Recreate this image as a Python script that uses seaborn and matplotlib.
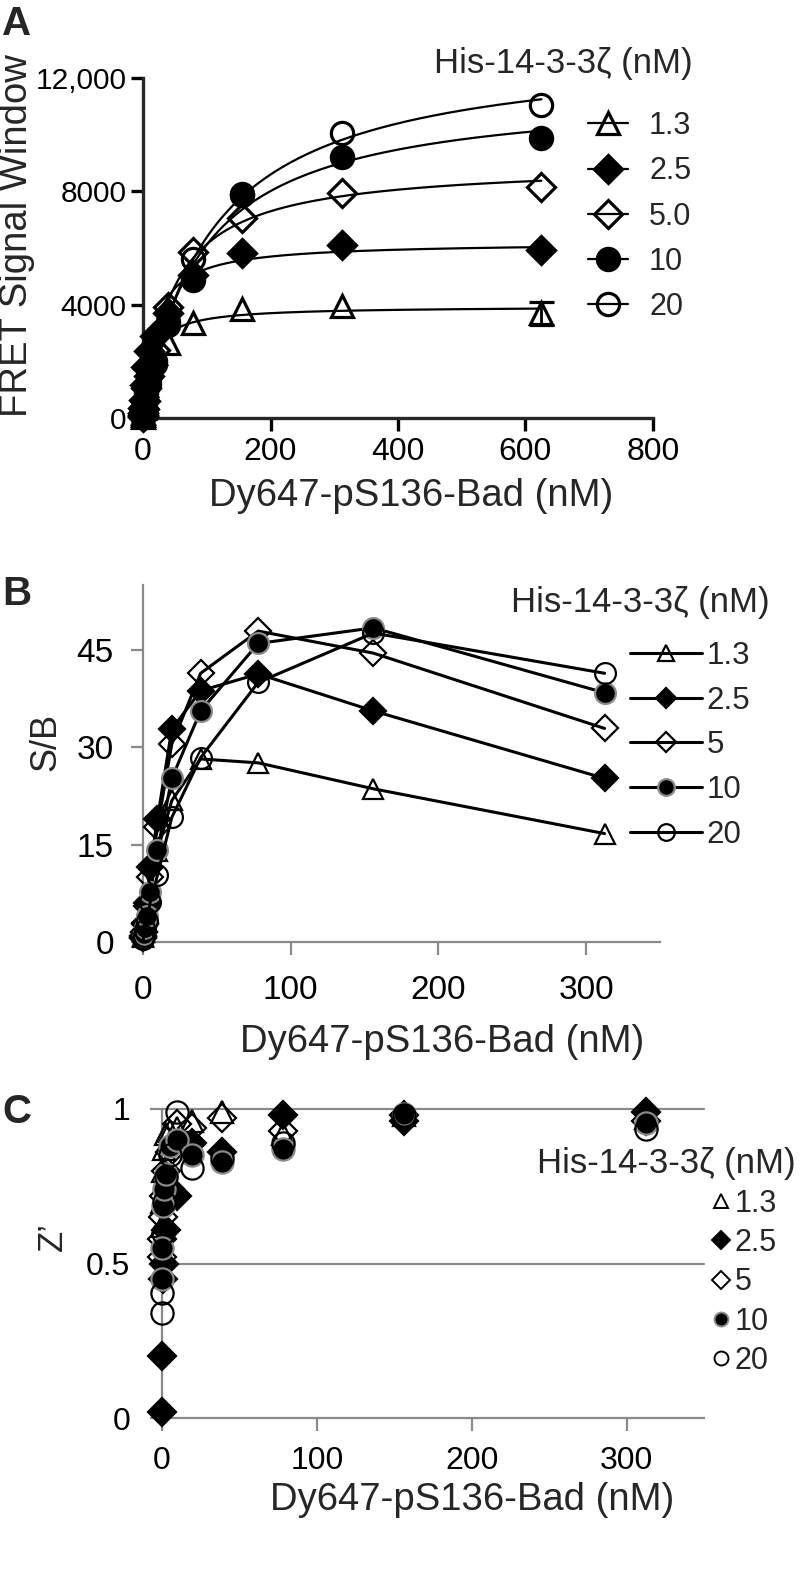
import numpy as np
import matplotlib
matplotlib.use('Agg')
import matplotlib.pyplot as plt
from matplotlib.lines import Line2D
import seaborn as sns

# ---- data ----
legend_title = 'His-14-3-3\u03b6 (nM)'
labels_a = ['1.3', '2.5', '5.0', '10', '20']
labels_bc = ['1.3', '2.5', '5', '10', '20']

# Panel A: FRET signal window vs Dy647-pS136-Bad (nM)
bad_a = [0.15, 0.3, 0.6, 1.2, 2.4, 4.9, 9.8, 19.5, 39, 78, 156, 312.5, 625]
fret_13 = [50, 100, 190, 370, 680, 1150, 1800, 2300, 2650, 3350, 3850, 3950, 3700]
fret_25 = [90, 180, 340, 650, 1150, 1800, 2350, 2900, 3700, 5050, 5820, 6100, 5930]
fret_50 = [40, 80, 160, 310, 600, 1050, 1500, 2400, 3920, 5860, 7060, 7940, 8150]
fret_10 = [30, 60, 120, 240, 480, 900, 1400, 2000, 3400, 4870, 7870, 9210, 9880]
fret_20 = [25, 50, 100, 200, 400, 750, 1200, 1900, 3300, 5600, 7900, 10060, 11050]
fret_13_err_625 = 400
a_xticks = [0, 200, 400, 600, 800]
a_yticks = [0, 4000, 8000, 12000]
a_yticklabels = ['0', '4000', '8000', '12,000']

# Panel B: S/B
bad_bc = [0.15, 0.3, 0.6, 1.2, 2.4, 4.9, 9.8, 19.5, 39, 78, 156, 312.5]
sb_13 = [0.7, 1.0, 1.5, 2.5, 4.5, 8.0, 14.0, 21.8, 28.2, 27.6, 23.6, 16.7]
sb_25 = [0.6, 0.9, 1.6, 3.0, 6.0, 11.5, 19.0, 32.8, 38.7, 41.3, 35.6, 25.2]
sb_5 = [0.6, 0.9, 1.5, 2.8, 5.5, 10.0, 17.7, 30.5, 41.4, 47.9, 44.5, 32.9]
sb_10 = [0.5, 0.8, 1.3, 2.2, 4.0, 7.7, 14.1, 25.2, 35.6, 46.0, 48.4, 38.4]
sb_20 = [0.4, 0.6, 1.0, 1.8, 3.3, 6.1, 10.3, 19.2, 28.4, 40.0, 47.6, 41.4]
b_xticks = [0, 100, 200, 300]
b_yticks = [0, 15, 30, 45]

# Panel C: Z'
z_13 = [0.62, 0.70, 0.80, 0.87, 0.92, 0.93, 0.94, 0.96, 0.99, 0.92, 0.98, 0.97]
z_25 = [0.02, 0.20, 0.45, 0.50, 0.61, 0.74, 0.72, 0.89, 0.86, 0.98, 0.96, 0.99]
z_5 = [0.52, 0.58, 0.65, 0.72, 0.80, 0.86, 0.95, 0.94, 0.97, 0.93, 0.98, 0.96]
z_10 = [0.45, 0.55, 0.685, 0.74, 0.79, 0.88, 0.90, 0.85, 0.83, 0.87, 0.985, 0.955]
z_20 = [0.34, 0.405, 0.60, 0.70, 0.78, 0.85, 0.99, 0.81, 0.84, 0.89, 0.98, 0.935]
c_xticks = [0, 100, 200, 300]
c_yticks = [0, 0.5, 1]
c_yticklabels = ['0', '0.5', '1']

fret_all = [fret_13, fret_25, fret_50, fret_10, fret_20]
sb_all = [sb_13, sb_25, sb_5, sb_10, sb_20]
z_all = [z_13, z_25, z_5, z_10, z_20]

markers = ['^', 'D', 'D', 'o', 'o']
filled = [False, True, False, True, False]
GRAY = '#8a8a8a'

sns.set_style('ticks')
plt.rcParams['font.family'] = ['Liberation Sans', 'DejaVu Sans']

W, H = 800, 1584
fig = plt.figure(figsize=(W / 100, H / 100), dpi=100)


def px_axes(left, top, right, bottom):
    return fig.add_axes([left / W, 1 - bottom / H, (right - left) / W, (bottom - top) / H])


def ftext(x, y, s, **kw):
    fig.text(x / W, 1 - y / H, s, **kw)


def msize(m, base):
    return base * 0.88 if m == 'D' else base


def fit_hyperbola(x, y):
    # one-site binding fit, Y = Bmax*X/(Kd+X), least squares on a Kd grid
    x = np.asarray(x, float)
    y = np.asarray(y, float)
    best = None
    for kd in np.logspace(-0.5, 3.5, 1500):
        f = x / (kd + x)
        bmax = (f @ y) / (f @ f)
        sse = ((y - bmax * f) ** 2).sum()
        if best is None or sse < best[0]:
            best = (sse, kd, bmax)
    return best[1], best[2]


# ================= Panel A =================
axA = px_axes(143, 78, 653, 418)
xs = np.linspace(0, max(bad_a), 400)
handles_a = []
for vals, m, fl in zip(fret_all, markers, filled):
    kd, bmax = fit_hyperbola(bad_a, vals)
    sns.lineplot(x=xs, y=bmax * xs / (kd + xs), ax=axA, color='black', lw=1.6, zorder=2)
    sns.lineplot(x=bad_a, y=vals, ax=axA, linestyle='none', marker=m,
                 markersize=msize(m, 16), markerfacecolor='black' if fl else 'none',
                 markeredgecolor='black', markeredgewidth=2.3, clip_on=False, zorder=3)
    handles_a.append(Line2D([], [], color='black', lw=1.6, marker=m, markersize=msize(m, 16),
                            markerfacecolor='black' if fl else 'none',
                            markeredgecolor='black', markeredgewidth=2.3))
axA.errorbar(bad_a[-1], fret_13[-1], yerr=fret_13_err_625, fmt='none', ecolor='black',
             elinewidth=2, capsize=9, capthick=2.3, clip_on=False, zorder=3)
axA.set_xlim(0, 800)
axA.set_ylim(0, 12000)
axA.set_xticks(a_xticks)
axA.set_yticks(a_yticks)
axA.set_yticklabels(a_yticklabels)
sns.despine(ax=axA)
for sp in ['left', 'bottom']:
    axA.spines[sp].set_linewidth(2.4)
axA.spines['bottom'].set_bounds(20, 800)
axA.tick_params(width=2.4, length=9, labelsize=21.5, pad=3, colors='black')
axA.tick_params(axis='x', labelsize=23, pad=5)
axA.set_xlabel('')
axA.set_ylabel('')
ftext(411, 496, 'Dy647-pS136-Bad (nM)', fontsize=27.5, ha='center', va='center')
ftext(17, 236, 'FRET Signal Window', fontsize=27.5, ha='center', va='center', rotation=90)
ftext(2, 24, 'A', fontsize=29, fontweight='bold', ha='left', va='center')
ftext(563, 63, legend_title, fontsize=25, ha='center', va='center')
axA.legend(handles_a, labels_a, loc='upper left', bbox_to_anchor=(588 / W, 1 - 111 / H),
           bbox_transform=fig.transFigure, frameon=False, borderpad=0, borderaxespad=0,
           handlelength=1.3, handletextpad=0.7, labelspacing=0.5, fontsize=22)

# ================= Panel B =================
axB = px_axes(143, 585, 660, 942)
handles_b = []
for vals, m, fl, i in zip(sb_all, markers, filled, range(5)):
    ec = GRAY if i == 3 else 'black'
    sns.lineplot(x=bad_bc, y=vals, ax=axB, color='black', lw=2.2, marker=m,
                 markersize=msize(m, 15), markerfacecolor='black' if fl else 'none',
                 markeredgecolor=ec, markeredgewidth=1.6, clip_on=False, zorder=3)
    handles_b.append(Line2D([], [], color='black', lw=2.2, marker=m, markersize=msize(m, 12),
                            markerfacecolor='black' if fl else 'none',
                            markeredgecolor=ec, markeredgewidth=1.6))
axB.set_xlim(0, 350)
axB.set_ylim(0, 55)
axB.set_xticks(b_xticks)
axB.set_yticks(b_yticks)
sns.despine(ax=axB)
for sp in ['left', 'bottom']:
    axB.spines[sp].set_color(GRAY)
    axB.spines[sp].set_linewidth(1.6)
axB.tick_params(color=GRAY, width=1.6, length=9, labelsize=24, labelcolor='black')
axB.tick_params(axis='y', pad=12)
axB.tick_params(axis='x', pad=15)
axB.set_xlabel('')
axB.set_ylabel('')
ftext(442, 1042, 'Dy647-pS136-Bad (nM)', fontsize=27.5, ha='center', va='center')
ftext(46, 742, 'S/B', fontsize=26, ha='center', va='center', rotation=90)
ftext(2, 594, 'B', fontsize=29, fontweight='bold', ha='left', va='center')
ftext(640, 603, legend_title, fontsize=25, ha='center', va='center')
axB.legend(handles_b, labels_bc, loc='upper left', bbox_to_anchor=(630 / W, 1 - 641 / H),
           bbox_transform=fig.transFigure, frameon=False, borderpad=0, borderaxespad=0,
           handlelength=2.3, handletextpad=0.15, labelspacing=0.47, fontsize=22.5)

# ================= Panel C =================
axC = px_axes(162, 1109, 704, 1418)
handles_c = []
for vals, m, fl, i in zip(z_all, markers, filled, range(5)):
    ec = GRAY if i == 3 else 'black'
    sns.lineplot(x=bad_bc, y=vals, ax=axC, linestyle='none', marker=m,
                 markersize=msize(m, 16), markerfacecolor='black' if fl else 'none',
                 markeredgecolor=ec, markeredgewidth=1.6, clip_on=False, zorder=3)
    handles_c.append(Line2D([], [], linestyle='none', marker=m, markersize=msize(m, 10),
                            markerfacecolor='black' if fl else 'none',
                            markeredgecolor=ec, markeredgewidth=1.4))
axC.set_xlim(0, 350)
axC.set_ylim(0, 1)
axC.set_xticks(c_xticks)
axC.set_yticks(c_yticks)
axC.set_yticklabels(c_yticklabels)
for t in c_yticks[1:]:
    axC.axhline(t, color=GRAY, lw=1.6, zorder=1, clip_on=False)
sns.despine(ax=axC)
for sp in ['left', 'bottom']:
    axC.spines[sp].set_color(GRAY)
    axC.spines[sp].set_linewidth(1.6)
axC.tick_params(color=GRAY, width=1.6, length=9, labelsize=23, labelcolor='black')
axC.tick_params(axis='y', pad=14)
axC.tick_params(axis='x', pad=11)
axC.set_xlabel('')
axC.set_ylabel('')
ftext(472, 1500, 'Dy647-pS136-Bad (nM)', fontsize=27.5, ha='center', va='center')
ftext(52, 1237, 'Z\u2019', fontsize=25, ha='center', va='center', rotation=90)
ftext(2, 1112, 'C', fontsize=29, fontweight='bold', ha='left', va='center')
ftext(666, 1163, legend_title, fontsize=25, ha='center', va='center')
axC.legend(handles_c, labels_bc, loc='upper left', bbox_to_anchor=(713 / W, 1 - 1189 / H),
           bbox_transform=fig.transFigure, frameon=False, borderpad=0, borderaxespad=0,
           handlelength=0.5, handletextpad=0.2, labelspacing=0.3, fontsize=22)

fig.savefig('out.png', dpi=100)
